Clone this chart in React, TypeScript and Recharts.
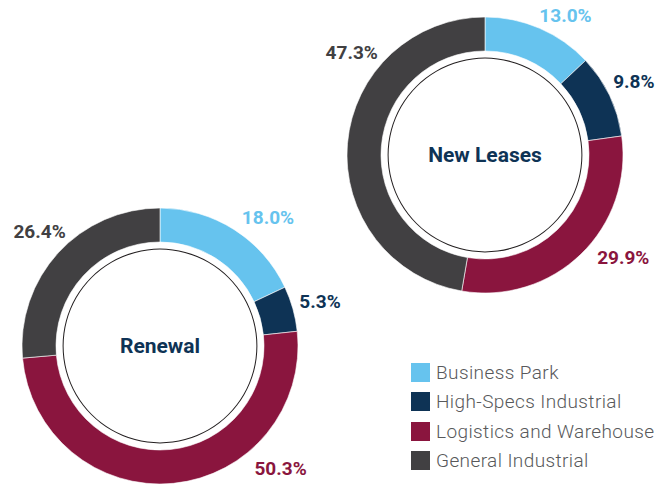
import { PieChart, Pie, Cell, Legend } from "recharts";

const categories = [
  "Business Park",
  "High-Specs Industrial",
  "Logistics and Warehouse",
  "General Industrial",
];
const renewalShares = [18.0, 5.3, 50.3, 26.4];
const newLeaseShares = [13.0, 9.8, 29.9, 47.3];
const colors = ["#66c3ee", "#0e3355", "#8a153e", "#414042"];

const renewalData = categories.map((name, i) => ({ name, value: renewalShares[i] }));
const newLeaseData = categories.map((name, i) => ({ name, value: newLeaseShares[i] }));
const renewalRing = [{ name: "Renewal", value: 1 }];
const newLeaseRing = [{ name: "New Leases", value: 1 }];

// hand-placed labels in the source: clock angle (deg from 12 o'clock) and distance from centre
const renewalLabelPos = [
  [40, 168],
  [74.6, 166],
  [135.5, 172],
  [313.5, 166],
];
const newLeaseLabelPos = [
  [30, 161],
  [63.7, 166],
  [126.5, 172],
  [307.5, 168],
];

const labelFont = "Roboto, sans-serif";

const makeLabel = (pos: number[][]) => (props: any) => {
  const { cx, cy, index, value } = props;
  const [angle, dist] = pos[index];
  const rad = (angle * Math.PI) / 180;
  const x = cx + dist * Math.sin(rad);
  const y = cy - dist * Math.cos(rad);
  return (
    <text
      x={x}
      y={y}
      textAnchor="middle"
      dominantBaseline="central"
      fill={colors[index]}
      fontFamily={labelFont}
      fontWeight={700}
      fontSize={19}
    >
      {value.toFixed(1)}%
    </text>
  );
};

// title in the middle of each donut, drawn from the ring pie's own centre
const centerLabel = (props: any) => {
  const { cx, cy, name } = props;
  return (
    <text
      x={cx}
      y={cy}
      textAnchor="middle"
      dominantBaseline="central"
      fill="#0e3355"
      fontFamily={labelFont}
      fontWeight={700}
      fontSize={21}
    >
      {name}
    </text>
  );
};

function LegendBox() {
  return (
    <div style={{ fontFamily: labelFont }}>
      {categories.map((name, i) => (
        <div
          key={name}
          style={{ display: "flex", alignItems: "center", height: 29.3 }}
        >
          <div style={{ width: 19, height: 19, background: colors[i], marginRight: 6 }} />
          <span
            style={{
              fontSize: 19,
              fontWeight: 300,
              letterSpacing: 0.4,
              color: "#58595b",
              whiteSpace: "nowrap",
            }}
          >
            {name}
          </span>
        </div>
      ))}
    </div>
  );
}

export default function App() {
  return (
    <div style={{ position: "absolute", left: 0, top: 0, width: 660, height: 484, background: "#fff" }}>
      <PieChart width={660} height={484} margin={{ top: 0, right: 0, bottom: 0, left: 0 }}>
        <Pie
          data={renewalData}
          dataKey="value"
          cx={160}
          cy={346}
          innerRadius={104}
          outerRadius={138}
          startAngle={90}
          endAngle={-270}
          stroke="#fff"
          strokeWidth={0.6}
          label={makeLabel(renewalLabelPos)}
          labelLine={false}
          isAnimationActive={false}
        >
          {renewalData.map((d, i) => (
            <Cell key={d.name} fill={colors[i]} />
          ))}
        </Pie>
        <Pie
          data={renewalRing}
          dataKey="value"
          nameKey="name"
          cx={160}
          cy={346}
          innerRadius={96.4}
          outerRadius={97.4}
          fill="#231f20"
          stroke="none"
          legendType="none"
          label={centerLabel}
          labelLine={false}
          isAnimationActive={false}
        />
        <Pie
          data={newLeaseData}
          dataKey="value"
          cx={485}
          cy={155}
          innerRadius={104}
          outerRadius={138}
          startAngle={90}
          endAngle={-270}
          stroke="#fff"
          strokeWidth={0.6}
          label={makeLabel(newLeaseLabelPos)}
          labelLine={false}
          isAnimationActive={false}
        >
          {newLeaseData.map((d, i) => (
            <Cell key={d.name} fill={colors[i]} />
          ))}
        </Pie>
        <Pie
          data={newLeaseRing}
          dataKey="value"
          nameKey="name"
          cx={485}
          cy={155}
          innerRadius={96.4}
          outerRadius={97.4}
          fill="#231f20"
          stroke="none"
          legendType="none"
          label={centerLabel}
          labelLine={false}
          isAnimationActive={false}
        />
        <Legend
          content={<LegendBox />}
          wrapperStyle={{ position: "absolute", left: 411, top: 358, width: 250, bottom: "auto" }}
        />
      </PieChart>
    </div>
  );
}
